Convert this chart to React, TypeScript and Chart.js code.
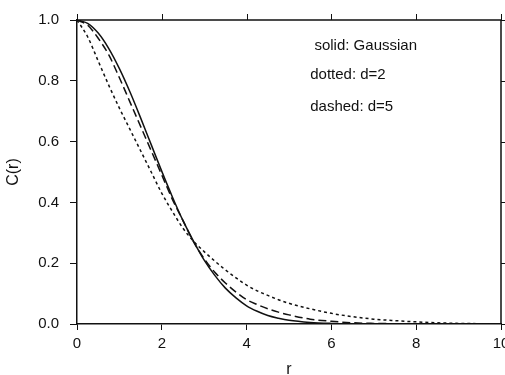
import React, { useEffect, useRef } from "react";
import { Chart, registerables } from "chart.js";

Chart.register(...registerables);

// Radial distance values (x axis)
const rValues = [
  0, 0.25, 0.5, 0.75, 1.0, 1.25, 1.5, 1.75, 2.0, 2.25, 2.5, 2.75, 3.0, 3.25,
  3.5, 3.75, 4.0, 4.25, 4.5, 4.75, 5.0, 5.5, 6.0, 6.5, 7.0, 7.5, 8.0, 8.5, 9.0,
  9.5, 10.0,
];

// solid: Gaussian
const gaussian = [
  1.0, 0.989, 0.957, 0.906, 0.84, 0.763, 0.678, 0.59, 0.502, 0.418, 0.34,
  0.272, 0.21, 0.16, 0.118, 0.086, 0.06, 0.042, 0.028, 0.019, 0.012, 0.005,
  0.002, 0.0007, 0.0002, 0.0, 0.0, 0.0, 0.0, 0.0, 0.0,
];

// dotted: d=2
const dottedD2 = [
  1.0, 0.945, 0.865, 0.785, 0.71, 0.64, 0.57, 0.5, 0.43, 0.37, 0.315, 0.272,
  0.238, 0.207, 0.178, 0.152, 0.128, 0.109, 0.094, 0.08, 0.068, 0.05, 0.035,
  0.024, 0.016, 0.011, 0.007, 0.004, 0.002, 0.001, 0.0,
];

// dashed: d=5
const dashedD5 = [
  1.0, 0.983, 0.94, 0.885, 0.81, 0.73, 0.65, 0.57, 0.49, 0.41, 0.34, 0.27,
  0.215, 0.17, 0.135, 0.105, 0.08, 0.064, 0.05, 0.039, 0.03, 0.016, 0.009,
  0.004, 0.002, 0.001, 0.0005, 0.0, 0.0, 0.0, 0.0,
];

const xTicks = [0, 2, 4, 6, 8, 10];
const yTicks = [0, 0.2, 0.4, 0.6, 0.8, 1.0];

// Annotation texts and their anchor (data coordinates)
const noteTexts = ["solid: Gaussian", "dotted: d=2", "dashed: d=5"];
const noteX = [5.6, 5.5, 5.5];
const noteY = [0.916, 0.819, 0.715];

const INK = "#111111";
const FONT = "'Liberation Sans', Arial, Helvetica, sans-serif";

const framePlugin = {
  id: "frameAndNotes",
  afterDraw(chart: any) {
    const { ctx, chartArea } = chart;
    const xs = chart.scales.x;
    const ys = chart.scales.y;
    ctx.save();
    ctx.strokeStyle = INK;
    ctx.lineWidth = 1.5;
    ctx.beginPath();
    ctx.moveTo(chartArea.left, chartArea.top);
    ctx.lineTo(chartArea.right, chartArea.top);
    ctx.lineTo(chartArea.right, chartArea.bottom);
    ctx.stroke();
    ctx.lineWidth = 1;
    ctx.beginPath();
    xTicks.forEach((v) => {
      const px = Math.round(xs.getPixelForValue(v)) + 0.5;
      ctx.moveTo(px, chartArea.top);
      ctx.lineTo(px, chartArea.top - 6);
    });
    yTicks.forEach((v) => {
      const py = Math.round(ys.getPixelForValue(v)) + 0.5;
      ctx.moveTo(chartArea.right, py);
      ctx.lineTo(chartArea.right + 6, py);
    });
    ctx.stroke();

    ctx.fillStyle = INK;
    ctx.font = `15px ${FONT}`;
    ctx.textBaseline = "middle";
    ctx.textAlign = "left";
    noteTexts.forEach((t, i) => {
      ctx.fillText(t, xs.getPixelForValue(noteX[i]), ys.getPixelForValue(noteY[i]));
    });
    ctx.restore();
  },
};

export default function App() {
  const ref = useRef<HTMLCanvasElement | null>(null);

  useEffect(() => {
    if (!ref.current) return;
    const mk = (arr: number[]) => rValues.map((r, i) => ({ x: r, y: arr[i] }));
    const chart = new Chart(ref.current, {
      type: "line",
      data: {
        datasets: [
          {
            label: "solid: Gaussian",
            data: mk(gaussian),
            borderColor: INK,
            borderWidth: 1.5,
            pointRadius: 0,
            cubicInterpolationMode: "monotone",
          },
          {
            label: "dotted: d=2",
            data: mk(dottedD2),
            borderColor: INK,
            borderWidth: 1.5,
            borderDash: [3, 3],
            pointRadius: 0,
            cubicInterpolationMode: "monotone",
          },
          {
            label: "dashed: d=5",
            data: mk(dashedD5),
            borderColor: INK,
            borderWidth: 1.5,
            borderDash: [8, 4],
            pointRadius: 0,
            cubicInterpolationMode: "monotone",
          },
        ],
      },
      options: {
        animation: false,
        responsive: false,
        devicePixelRatio: 1,
        layout: { padding: { top: 15, right: 4, left: 0, bottom: 0 } },
        plugins: {
          legend: { display: false },
          tooltip: { enabled: false },
        },
        scales: {
          x: {
            type: "linear",
            min: 0,
            max: 10,
            afterBuildTicks: (s: any) => {
              s.ticks = xTicks.map((v) => ({ value: v }));
            },
            afterFit: (s: any) => {
              s.height = 51;
              s.paddingLeft = 0;
              s.paddingRight = 0;
            },
            ticks: {
              color: INK,
              font: { family: FONT, size: 15 },
              padding: 5,
              maxRotation: 0,
              autoSkip: false,
            },
            grid: {
              display: true,
              drawOnChartArea: false,
              drawTicks: true,
              tickLength: 6,
              color: INK,
            },
            border: { display: true, color: INK, width: 1.5 },
            title: {
              display: true,
              text: "r",
              color: INK,
              font: { family: FONT, size: 16 },
              padding: { top: 0, bottom: -4 },
            },
          },
          y: {
            type: "linear",
            min: 0,
            max: 1,
            afterBuildTicks: (s: any) => {
              s.ticks = yTicks.map((v) => ({ value: v }));
            },
            afterFit: (s: any) => {
              s.width = 77;
            },
            ticks: {
              color: INK,
              font: { family: FONT, size: 15 },
              padding: 11,
              callback: (v: any) => Number(v).toFixed(1),
            },
            grid: {
              display: true,
              drawOnChartArea: false,
              drawTicks: true,
              tickLength: 7,
              color: INK,
            },
            border: { display: true, color: INK, width: 1.5 },
            title: {
              display: true,
              text: "C(r)",
              color: INK,
              font: { family: FONT, size: 16 },
              padding: { top: 4, bottom: 0 },
            },
          },
        },
      },
      plugins: [framePlugin],
    });
    return () => chart.destroy();
  }, []);

  return (
    <div style={{ position: "absolute", left: 0, top: 0, width: 505, height: 375, background: "#fff" }}>
      <canvas ref={ref} width={505} height={375} style={{ width: 505, height: 375 }} />
    </div>
  );
}
